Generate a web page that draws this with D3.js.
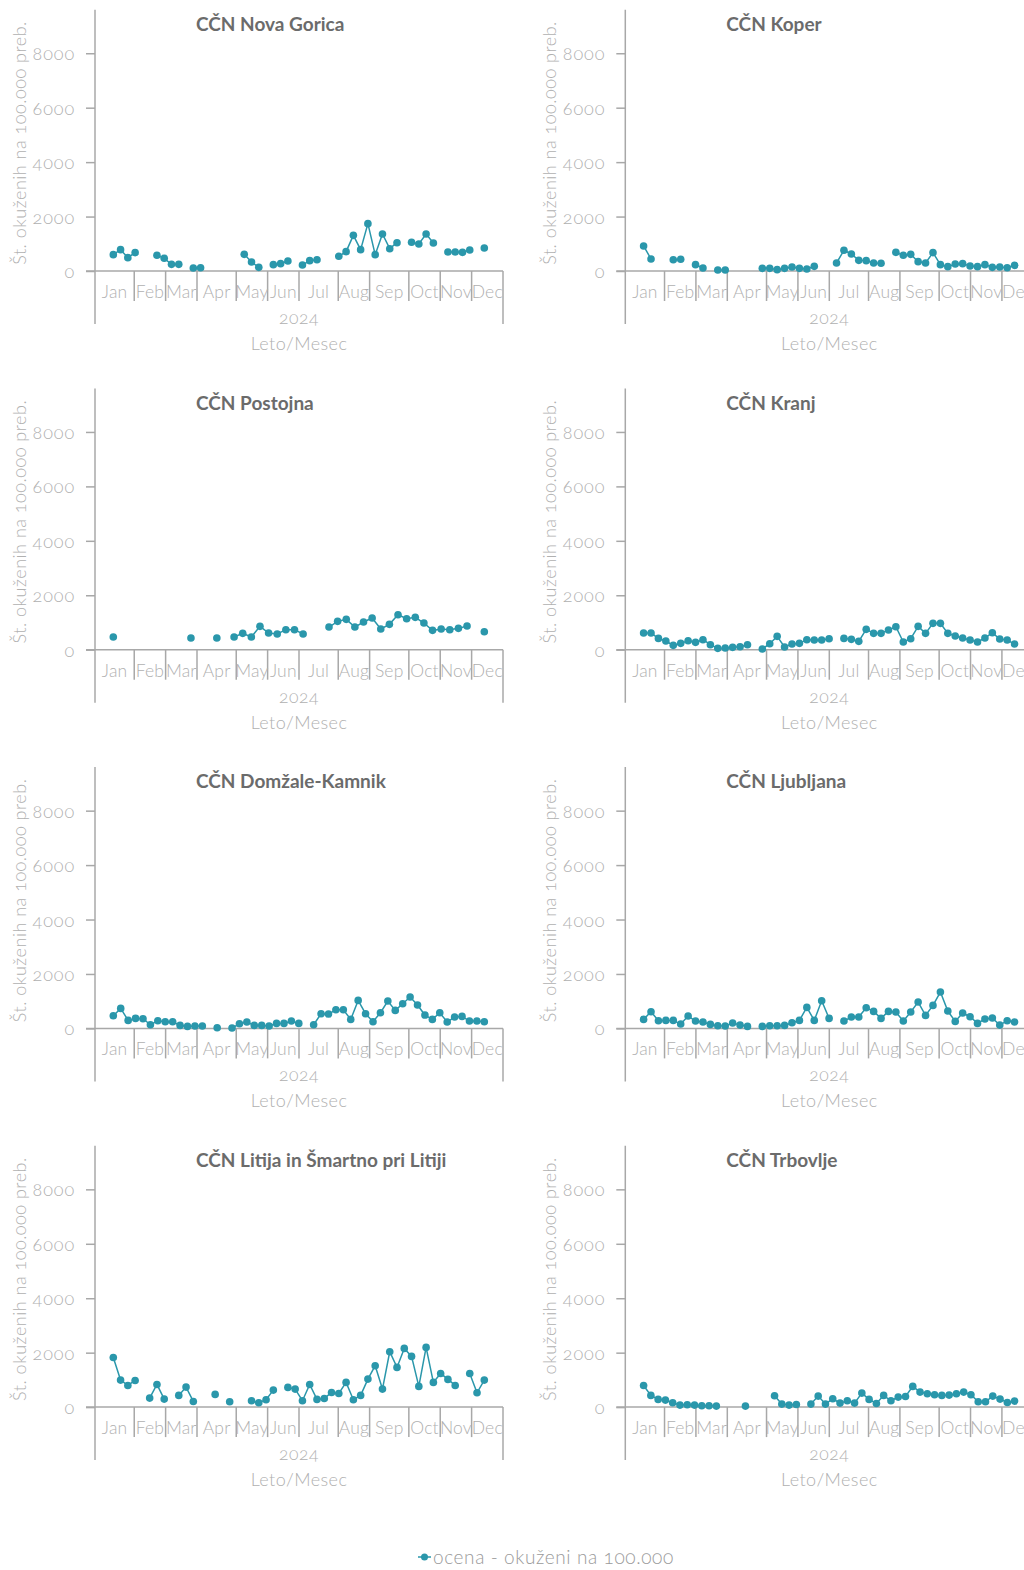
<!DOCTYPE html>
<html>
<head>
<meta charset="utf-8">
<script src="https://cdn.jsdelivr.net/npm/d3@7"></script>
<style>
  html, body { margin: 0; padding: 0; background: #fff; }
  svg { display: block; }
  text { font-family: Lato, "Open Sans", sans-serif; }
  .num { font-variant-numeric: oldstyle-nums; font-feature-settings: "onum" 1; }
</style>
</head>
<body>
<svg id="chart" width="1024" height="1570"></svg>
<script>
// Months of 2024 and the number of weekly categories each one groups on the axis
const months = ["Jan", "Feb", "Mar", "Apr", "May", "Jun", "Jul", "Aug", "Sep", "Oct", "Nov", "Dec"];
const weeksPerMonth = [5, 4, 4, 5, 4, 4, 5, 4, 5, 4, 4, 4];
const yTicks = [0, 2000, 4000, 6000, 8000];
const yearLabel = "2024";
const xTitle = "Leto/Mesec";
const yTitle = "Št. okuženih na 100.000 preb.";
const seriesName = "ocena - okuženi na 100.000";

// Estimated infections per 100,000 inhabitants, one entry per sampling slot (null = no sample)
const novaGorica = [600,784,490,674,null,null,576,466,245,245,null,110,122,null,null,null,null,null,612,331,135,null,233,270,368,null,220,380,416,null,null,540,710,1310,784,1740,600,1360,820,1040,null,1054,992,1360,1030,null,700,700,686,772,null,845];
const koper = [919,441,null,null,416,429,null,233,110,null,37,37,null,null,null,null,98,98,49,98,147,98,73,171,null,null,294,760,625,392,380,294,282,null,686,576,612,343,294,674,233,159,257,270,184,159,233,135,147,122,208];
const postojna = [466,null,null,null,null,null,null,null,null,429,null,null,429,null,466,600,466,858,613,576,735,735,576,null,null,833,1041,1115,833,1017,1164,760,931,1286,1139,1188,980,710,760,735,784,870,null,662];
const kranj = [612,612,416,318,159,233,331,270,368,184,49,61,86,110,184,null,25,220,490,98,208,233,368,355,355,404,null,416,380,306,747,600,600,723,845,282,404,858,600,968,968,600,502,429,355,282,429,625,392,355,208];
const domzaleKamnik = [466,735,294,368,355,135,282,245,245,110,74,86,86,null,25,null,12,171,233,110,110,86,184,184,270,184,null,135,539,527,686,686,331,1029,539,245,576,1005,662,907,1152,858,490,331,576,233,417,441,270,270,245];
const ljubljana = [331,612,282,294,294,159,453,270,233,147,98,86,196,122,74,null,74,98,98,110,208,294,772,294,1017,368,null,270,417,417,760,625,368,625,600,270,600,968,478,845,1335,637,257,564,429,184,343,380,122,282,233];
const litija = [1825,992,796,980,null,331,833,294,null,429,735,208,null,null,466,null,196,null,null,233,159,270,625,null,723,662,233,833,282,318,539,502,907,270,429,1029,1519,662,2034,1458,2156,1862,760,2193,907,1237,1017,796,null,1237,527,992];
const trbovlje = [796,429,282,257,159,74,86,74,49,49,37,null,null,null,37,null,null,null,417,110,74,98,null,110,404,110,306,147,233,147,515,282,135,429,233,368,392,760,551,490,453,429,441,490,551,453,196,196,404,294,171,220];

const titles = ["CČN Nova Gorica", "CČN Koper", "CČN Postojna", "CČN Kranj",
                "CČN Domžale-Kamnik", "CČN Ljubljana", "CČN Litija in Šmartno pri Litiji", "CČN Trbovlje"];
const seriesList = [novaGorica, koper, postojna, kranj, domzaleKamnik, ljubljana, litija, trbovlje];

// Layout
const colX = [95, 625.3];
const firstZero = 271;
const rowStep = 378.7;
const axisWidth = 408;
const plotHeight = 261.3;
const yMax = 9600;
const pointInset = 18.3;
const lineColor = "#2a97ab";
const axisColor = "#a8a8a8";
const textColor = "#b0b0b0";

const svg = d3.select("#chart");
svg.append("rect").attr("width", 1024).attr("height", 1570).attr("fill", "#fff");

const totalWeeks = d3.sum(weeksPerMonth);
const monthStarts = d3.cumsum([0].concat(weeksPerMonth.slice(0, -1)));

function lightText(sel, size, spacing) {
  return sel.attr("fill", textColor)
    .style("font-size", size + "px").style("font-weight", 300)
    .style("letter-spacing", spacing + "px");
}

seriesList.forEach((values, k) => {
  const col = k % 2, row = Math.floor(k / 2);
  const x0 = colX[col];
  const zeroY = firstZero + row * rowStep;
  const g = svg.append("g");

  const y = d3.scaleLinear().domain([0, yMax]).range([zeroY, zeroY - plotHeight]);
  const x = d3.scalePoint().domain(d3.range(values.length))
    .range([x0 + pointInset, x0 + axisWidth - pointInset - 0.4]);
  const m = d3.scaleLinear().domain([0, totalWeeks]).range([x0, x0 + axisWidth]);

  // y axis ticks and labels
  const yAxis = d3.axisLeft(y).tickValues(yTicks).tickSize(9).tickPadding(11).tickFormat(d3.format("d"));
  const ya = g.append("g").attr("transform", `translate(${x0},0)`).call(yAxis);
  ya.select(".domain").remove();
  ya.selectAll(".tick line").attr("stroke", axisColor).attr("stroke-width", 1.5);
  lightText(ya.selectAll(".tick text").attr("class", "num"), 18, 0.9).attr("dy", "0.36em");

  // vertical axis line (plot + category rows)
  g.append("line").attr("x1", x0).attr("x2", x0)
    .attr("y1", zeroY - plotHeight).attr("y2", zeroY + 53)
    .attr("stroke", axisColor).attr("stroke-width", 1.5);
  // baseline
  g.append("line").attr("x1", x0 - 9).attr("x2", m(totalWeeks))
    .attr("y1", zeroY).attr("y2", zeroY)
    .attr("stroke", axisColor).attr("stroke-width", 1.5);
  // right end of the category axis
  g.append("line").attr("x1", m(totalWeeks)).attr("x2", m(totalWeeks))
    .attr("y1", zeroY).attr("y2", zeroY + 53)
    .attr("stroke", axisColor).attr("stroke-width", 1.5);
  // month separators
  g.selectAll(".sep").data(monthStarts.slice(1)).enter().append("line")
    .attr("x1", d => m(d)).attr("x2", d => m(d))
    .attr("y1", zeroY).attr("y2", zeroY + 30)
    .attr("stroke", axisColor).attr("stroke-width", 1.5);
  // month labels
  lightText(g.selectAll(".mlab").data(months).enter().append("text")
    .attr("x", (d, i) => m(monthStarts[i] + weeksPerMonth[i] / 2))
    .attr("y", zeroY + 27)
    .attr("text-anchor", "middle"), 17.5, 0.2)
    .text(d => d);
  // year and axis title
  lightText(g.append("text").attr("x", m(totalWeeks / 2)).attr("y", zeroY + 53)
    .attr("text-anchor", "middle").attr("class", "num"), 17.5, 0.6).text(yearLabel);
  lightText(g.append("text").attr("x", m(totalWeeks / 2)).attr("y", zeroY + 79)
    .attr("text-anchor", "middle"), 18, 0.4).text(xTitle);

  // y title
  lightText(g.append("text")
    .attr("transform", `translate(${x0 - 69},${zeroY - 128}) rotate(-90)`)
    .attr("text-anchor", "middle").attr("class", "num"), 18, 0.5).text(yTitle);

  // panel title
  g.append("text").attr("x", x0 + 101).attr("y", zeroY - 240)
    .attr("fill", "#6b6b6b").style("font-size", "19px").style("font-weight", 700)
    .text(titles[k]);

  // series line and markers
  const line = d3.line().defined(d => d != null).x((d, i) => x(i)).y(d => y(d));
  g.append("path").datum(values).attr("d", line)
    .attr("fill", "none").attr("stroke", lineColor).attr("stroke-width", 1.5);
  g.selectAll(".dot").data(values.map((v, i) => ({ v, i })).filter(d => d.v != null))
    .enter().append("circle")
    .attr("cx", d => x(d.i)).attr("cy", d => y(d.v)).attr("r", 3.8)
    .attr("fill", lineColor);
});

// legend
const lg = svg.append("g");
lg.append("line").attr("x1", 418).attr("x2", 431).attr("y1", 1557).attr("y2", 1557)
  .attr("stroke", lineColor).attr("stroke-width", 1.5);
lg.append("circle").attr("cx", 424.5).attr("cy", 1557).attr("r", 3.5).attr("fill", lineColor);
lightText(lg.append("text").attr("x", 433).attr("y", 1563.5).attr("class", "num"), 19, 0.6)
  .attr("fill", "#9a9a9a").text(seriesName);
</script>
</body>
</html>
